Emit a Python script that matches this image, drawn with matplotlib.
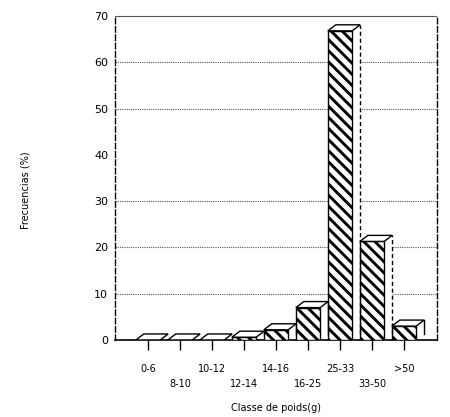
import matplotlib
matplotlib.use('Agg')
import matplotlib.pyplot as plt
from matplotlib.patches import Polygon

classes = ['0-6', '8-10', '10-12', '12-14', '14-16', '16-25', '25-33', '33-50', '>50']
freq = [0, 0, 0, 0.6, 2.2, 7.0, 66.8, 21.3, 3.0]
yticks = [0, 10, 20, 30, 40, 50, 60, 70]
grid_y = [10, 20, 30, 50, 60]

plt.rcParams['hatch.linewidth'] = 2.1
plt.rcParams['font.family'] = ['DejaVu Sans']

fig = plt.figure(figsize=(4.5, 4.17), dpi=100)
ax = fig.add_axes([0.2556, 0.1847, 0.9711 - 0.2556, 0.9616 - 0.1847])

w = 0.76
dx, dy = 0.25, 1.3
xs = list(range(len(classes)))

for g in grid_y:
    ax.axhline(g, color='#555555', lw=0.8, ls=(0, (1, 1)), zorder=0)

bars = ax.bar(xs, freq, width=w, facecolor='white', edgecolor='black',
              hatch='\\\\\\', lw=1.0, zorder=3)

for x, v in zip(xs, freq):
    l, r = x - w / 2, x + w / 2
    side = Polygon([(r, 0), (r + dx, dy), (r + dx, v + dy), (r, v)],
                   closed=True, facecolor='white', edgecolor='none', zorder=2)
    ax.add_patch(side)
    top = Polygon([(l, v), (l + dx, v + dy), (r + dx, v + dy), (r, v)],
                  closed=True, facecolor='white', edgecolor='black', lw=1.0, zorder=4)
    ax.add_patch(top)
    ax.plot([r + dx, r + dx], [dy, v + dy], color='black', lw=1.0,
            ls=(0, (3, 2)) if v > 10 else '-', zorder=4)

ax.set_xlim(-1.03, 9.03)
ax.set_ylim(0, 70)

for s in ['left', 'right']:
    ax.spines[s].set_linestyle((0, (4, 2)))
    ax.spines[s].set_linewidth(1.0)
ax.spines['top'].set_linestyle((0, (1, 1)))
ax.spines['top'].set_linewidth(0.8)
ax.spines['top'].set_color('#555555')
ax.spines['bottom'].set_linewidth(1.2)

ax.set_yticks(yticks)
ax.set_yticklabels([str(t) for t in yticks], fontsize=8, family='DejaVu Sans Condensed')
ax.tick_params(axis='y', length=0, pad=5)

labels = [c if i % 2 == 0 else '\n' + c for i, c in enumerate(classes)]
ax.set_xticks(xs)
ax.set_xticklabels(labels, fontsize=7, family='DejaVu Sans Condensed', linespacing=1.7)
ax.tick_params(axis='x', direction='out', length=7, width=1.0, pad=10)

fig.text(0.613, 0.021, 'Classe de poids(g)', ha='center', va='center',
         fontsize=7, family='DejaVu Sans Condensed')
fig.text(0.057, 0.545, 'Frecuencias (%)', ha='center', va='center',
         rotation=90, fontsize=7, family='DejaVu Sans Condensed')

fig.savefig('out.png', dpi=100)
